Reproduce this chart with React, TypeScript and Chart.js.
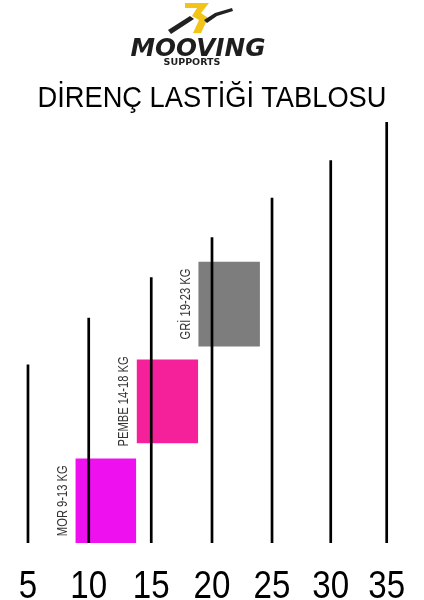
import { useEffect, useRef } from 'react';
import { Chart, ChartConfiguration, registerables } from 'chart.js';

Chart.register(...registerables);

// tick labels (kg) and where the black bars stand on the x axis
const weights = ['5', '10', '15', '20', '25', '30', '35'];
const linePos = [5, 10.08, 15.31, 20.39, 25.41, 30.32, 35];
const lineTops = [42.4, 53.5, 63.1, 72.6, 82.0, 90.9, 100];

// coloured bands
const bandNames = ['MOR 9-13 KG', 'PEMBE 14-18 KG', 'GRİ 19-23 KG'];
const bandFrom = [8.96, 14.08, 19.24];
const bandTo = [14.06, 19.24, 24.4];
const bandLow = [0, 23.7, 46.7];
const bandHigh = [20.1, 43.6, 66.8];
const bandColors = ['#ee10ee', '#f4219b', '#7d7d7d'];

const FONT = '"Liberation Sans", Arial, sans-serif';

// the original uses a narrow face; squeeze Liberation Sans instead
const narrowText = (
  ctx: CanvasRenderingContext2D,
  text: string,
  x: number,
  y: number,
  squeeze: number,
  angle = 0
) => {
  ctx.save();
  ctx.translate(x, y);
  ctx.rotate(angle);
  ctx.scale(squeeze, 1);
  ctx.fillText(text, 0, 0);
  ctx.restore();
};

// x tick labels, placed from the axis' own ticks
const weightTicks = {
  id: 'weightTicks',
  afterDraw(chart: Chart) {
    const { ctx, chartArea } = chart;
    const x = chart.scales.x;
    ctx.save();
    ctx.font = `38.5px ${FONT}`;
    ctx.fillStyle = '#000';
    ctx.textAlign = 'center';
    ctx.textBaseline = 'alphabetic';
    x.ticks.forEach((t, i) => {
      narrowText(ctx, weights[i], x.getPixelForValue(t.value), chartArea.bottom + 55, 0.86);
    });
    ctx.restore();
  },
};

const bandLabels = {
  id: 'bandLabels',
  afterDatasetsDraw(chart: Chart) {
    const { ctx } = chart;
    const x = chart.scales.x;
    const y = chart.scales.y;
    ctx.save();
    ctx.font = `14px ${FONT}`;
    ctx.fillStyle = '#333';
    ctx.textAlign = 'center';
    ctx.textBaseline = 'middle';
    bandNames.forEach((name, i) => {
      const px = x.getPixelForValue(bandFrom[i]) - 12.5;
      const py = (y.getPixelForValue(bandLow[i]) + y.getPixelForValue(bandHigh[i])) / 2;
      narrowText(ctx, name, px, py, 0.8, -Math.PI / 2);
    });
    ctx.restore();
  },
};

const buildConfig = (): ChartConfiguration => {
  const lineSets = linePos.map((pos, i) => ({
    label: weights[i],
    data: [
      { x: pos, y: 0 },
      { x: pos, y: lineTops[i] },
    ],
    borderColor: '#000',
    borderWidth: 2.7,
    pointRadius: 0,
    fill: false,
  }));

  const bandSets = bandNames.map((name, i) => ({
    label: name,
    data: [
      { x: bandFrom[i], y: bandLow[i] },
      { x: bandFrom[i], y: bandHigh[i] },
      { x: bandTo[i], y: bandHigh[i] },
      { x: bandTo[i], y: bandLow[i] },
    ],
    borderWidth: 0,
    borderColor: 'rgba(0,0,0,0)',
    backgroundColor: bandColors[i],
    pointRadius: 0,
    fill: { value: bandLow[i] },
  }));

  return {
    type: 'line',
    data: { datasets: [...lineSets, ...bandSets] },
    options: {
      animation: false,
      responsive: false,
      layout: { padding: { top: 122, left: 0, right: 0, bottom: 57 } },
      plugins: {
        legend: { display: false },
        tooltip: { enabled: false },
      },
      scales: {
        x: {
          type: 'linear',
          min: 2.66,
          max: 38.12,
          grid: { display: false, drawTicks: false },
          border: { display: false },
          afterBuildTicks: (axis: any) => {
            axis.ticks = linePos.map((v) => ({ value: v }));
          },
          ticks: { display: false },
        },
        y: { display: false, min: 0, max: 100 },
      },
    },
    plugins: [bandLabels, weightTicks],
  } as ChartConfiguration;
};

const Logo = () => (
  <>
    <svg width={424} height={40} style={{ position: 'absolute', left: 0, top: 0 }}>
      <polygon
        points="185,3 209,3 201,13 208,18 201,33 193,33 199,20 192,16 197,8 185,8"
        fill="#f2c418"
      />
      <polygon points="168,30 190,16 194,19 171,34" fill="#222" />
      <polygon points="204,20 215,13 232,8 233,11 217,16 207,23" fill="#222" />
    </svg>
    <div
      style={{
        position: 'absolute',
        left: 198,
        top: 36,
        transform: 'translateX(-50%)',
        font: 'italic bold 24.7px "DejaVu Sans", sans-serif',
        lineHeight: '24.7px',
        color: '#1e1e1e',
        whiteSpace: 'nowrap',
      }}
    >
      MOOVING
    </div>
    <div
      style={{
        position: 'absolute',
        left: 192,
        top: 57.3,
        transform: 'translateX(-50%)',
        font: 'bold 9.5px "DejaVu Sans", sans-serif',
        lineHeight: '9.5px',
        color: '#1e1e1e',
        whiteSpace: 'nowrap',
      }}
    >
      SUPPORTS
    </div>
  </>
);

const App = () => {
  const canvasRef = useRef<HTMLCanvasElement>(null);

  useEffect(() => {
    document.body.style.margin = '0';
    const chart = new Chart(canvasRef.current as HTMLCanvasElement, buildConfig());
    return () => {
      chart.destroy();
    };
  }, []);

  return (
    <div style={{ position: 'relative', width: 424, height: 600, background: '#fff' }}>
      <canvas ref={canvasRef} width={424} height={600} style={{ display: 'block' }} />
      <Logo />
      <div
        style={{
          position: 'absolute',
          left: 0,
          top: 82.5,
          width: 424,
          textAlign: 'center',
          font: `29px ${FONT}`,
          lineHeight: '29px',
          color: '#000',
          transform: 'scaleX(0.94)',
          whiteSpace: 'nowrap',
        }}
      >
        DİRENÇ LASTİĞİ TABLOSU
      </div>
    </div>
  );
};

export default App;
